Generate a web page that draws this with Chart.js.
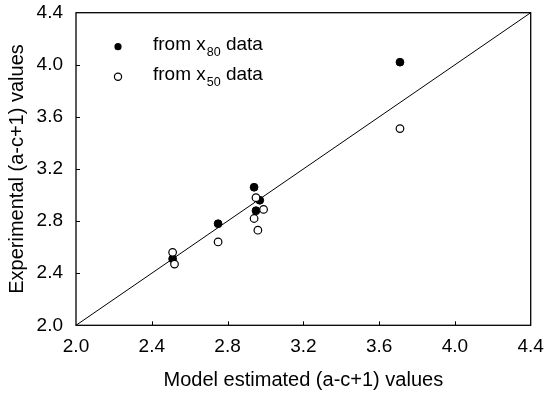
<!DOCTYPE html>
<html>
<head>
<meta charset="utf-8">
<script src="https://cdn.jsdelivr.net/npm/chart.js@4/dist/chart.umd.min.js"></script>
<style>
  html, body { margin: 0; padding: 0; background: #fff; }
  #wrap { width: 545px; height: 395px; }
</style>
</head>
<body>
<div id="wrap"><canvas id="graph" width="545" height="395"></canvas></div>
<script>
// values
const x80 = [2.51, 2.75, 2.94, 2.95, 2.97, 3.71]
const y80 = [2.51, 2.78, 3.06, 2.88, 2.96, 4.02]
const x50 = [2.51, 2.52, 2.75, 2.94, 2.95, 2.96, 2.99, 3.71]
const y50 = [2.56, 2.47, 2.64, 2.82, 2.98, 2.73, 2.89, 3.51]
const lineX = [2.0, 4.4]
const xTicks = [2.0, 2.4, 2.8, 3.2, 3.6, 4.0, 4.4]
const yTicks = [2.0, 2.4, 2.8, 3.2, 3.6, 4.0, 4.4]
const legendRows = [
    ['from x', '80', ' data'],
    ['from x', '50', ' data']
]
const xTitle = 'Model estimated (a-c+1) values'
const yTitle = 'Experimental (a-c+1) values'

const FONT = "'Liberation Sans', Arial, sans-serif"
Chart.defaults.font.family = FONT
Chart.defaults.color = '#000'

const toPts = (xs, ys) => xs.map((x, i) => ({ x: x, y: ys[i] }))

// box round the plot, inward ticks and the legend with subscripts
const frame = {
    id: 'frame',
    afterDatasetsDraw(chart) {
        const { ctx, chartArea: a, scales } = chart
        ctx.save()
        ctx.strokeStyle = '#000'
        ctx.lineWidth = 1.3
        ctx.strokeRect(a.left, a.top, a.right - a.left, a.bottom - a.top)
        ctx.lineWidth = 1
        ctx.beginPath()
        xTicks.slice(1, -1).forEach(v => {
            const px = Math.round(scales.x.getPixelForValue(v)) + 0.5
            ctx.moveTo(px, a.bottom)
            ctx.lineTo(px, a.bottom - 4)
        })
        yTicks.slice(1, -1).forEach(v => {
            const py = Math.round(scales.y.getPixelForValue(v)) + 0.5
            ctx.moveTo(a.left, py)
            ctx.lineTo(a.left + 4, py)
        })
        ctx.stroke()

        // legend
        legendRows.forEach((row, i) => {
            const my = a.top + 34 + i * 30
            const mx = a.left + 42
            ctx.beginPath()
            ctx.arc(mx, my, 3.6, 0, Math.PI * 2)
            if (i === 0) {
                ctx.fillStyle = '#000'
                ctx.fill()
            } else {
                ctx.fillStyle = '#fff'
                ctx.fill()
                ctx.lineWidth = 1.2
                ctx.stroke()
            }
            ctx.fillStyle = '#000'
            ctx.textBaseline = 'alphabetic'
            ctx.textAlign = 'left'
            let tx = a.left + 77
            const base = my + 3.5
            ctx.font = '19px ' + FONT
            ctx.fillText(row[0], tx, base)
            tx += ctx.measureText(row[0]).width + 1
            ctx.font = '12.5px ' + FONT
            ctx.fillText(row[1], tx, base + 5.5)
            tx += ctx.measureText(row[1]).width
            ctx.font = '19px ' + FONT
            ctx.fillText(row[2], tx, base)
        })
        ctx.restore()
    }
}

new Chart(
    document.getElementById('graph'),
    {
        type: 'scatter',
        data: {
            datasets: [
                {
                    label: 'from x50 data',
                    data: toPts(x50, y50),
                    pointRadius: 3.8,
                    pointBackgroundColor: '#fff',
                    pointBorderColor: '#000',
                    pointBorderWidth: 1.2,
                    order: 1
                },
                {
                    label: 'from x80 data',
                    data: toPts(x80, y80),
                    pointRadius: 3.9,
                    pointBackgroundColor: '#000',
                    pointBorderColor: '#000',
                    pointBorderWidth: 1,
                    order: 2
                },
                {
                    type: 'line',
                    label: '1:1',
                    data: toPts(lineX, lineX),
                    borderColor: '#000',
                    borderWidth: 1,
                    pointRadius: 0,
                    fill: false,
                    order: 3
                }
            ]
        },
        options: {
            responsive: false,
            animation: false,
            devicePixelRatio: 1,
            layout: { padding: { top: 12.7, right: 14.3, left: 0, bottom: 0 } },
            plugins: {
                legend: { display: false },
                tooltip: { enabled: false }
            },
            scales: {
                x: {
                    type: 'linear',
                    min: 2.0,
                    max: 4.4,
                    afterBuildTicks: s => { s.ticks = xTicks.map(v => ({ value: v })) },
                    afterFit: s => {
                        s.height = 69.7
                        s.paddingLeft = 0
                        s.paddingRight = 0
                    },
                    grid: { display: false, drawTicks: false },
                    border: { display: false },
                    ticks: {
                        padding: 10,
                        maxRotation: 0,
                        font: { size: 19 },
                        callback: v => Number(v).toFixed(1)
                    },
                    title: {
                        display: true,
                        text: xTitle,
                        font: { size: 20 },
                        padding: { top: 0, bottom: 3 }
                    }
                },
                y: {
                    type: 'linear',
                    min: 2.0,
                    max: 4.4,
                    afterBuildTicks: s => { s.ticks = yTicks.map(v => ({ value: v })) },
                    afterFit: s => {
                        s.width = 76
                        s.paddingTop = 0
                        s.paddingBottom = 0
                    },
                    grid: { display: false, drawTicks: false },
                    border: { display: false },
                    ticks: {
                        padding: 13,
                        font: { size: 19 },
                        callback: v => Number(v).toFixed(1)
                    },
                    title: {
                        display: true,
                        text: yTitle,
                        font: { size: 20 },
                        padding: { top: 5, bottom: 0 }
                    }
                }
            }
        },
        plugins: [frame]
    }
)
</script>
</body>
</html>
